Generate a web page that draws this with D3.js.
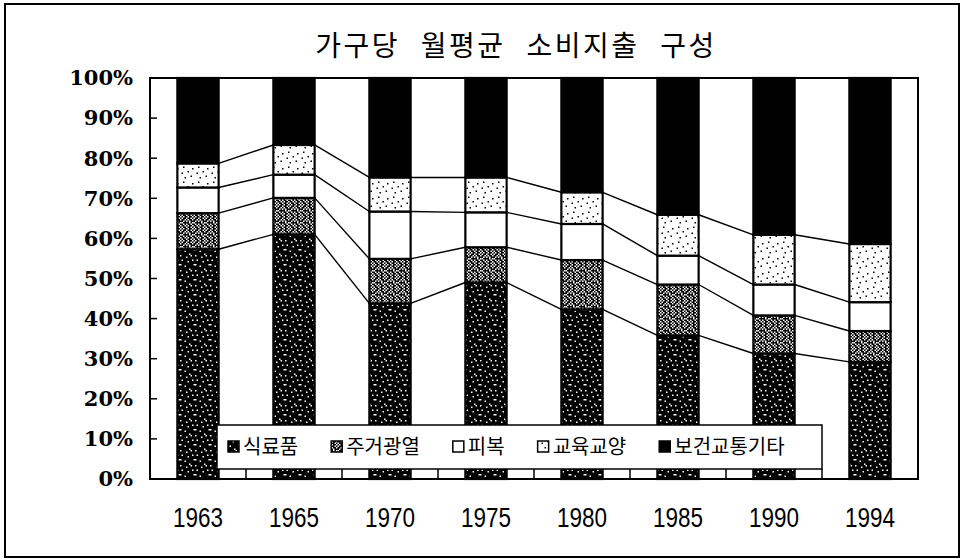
<!DOCTYPE html>
<html>
<head>
<meta charset="utf-8">
<script src="https://cdn.jsdelivr.net/npm/d3@7"></script>
<style>
  html, body { margin: 0; padding: 0; background: #fff; }
  svg { display: block; }
</style>
</head>
<body>
<div id="chart"></div>
<script>
// values (percent of monthly spending)
var years = ["1963", "1965", "1970", "1975", "1980", "1985", "1990", "1994"];
var seriesNames = ["식료품", "주거광열", "피복", "교육교양", "보건교통기타"];
var food      = [57.3, 61.0, 43.8, 49.0, 42.3, 35.8, 31.3, 29.2];
var housing   = [ 9.0,  9.1, 11.1,  8.8, 12.3, 12.7,  9.5,  7.7];
var clothing  = [ 6.4,  5.8, 11.8,  8.7,  9.0,  7.2,  7.7,  7.2];
var education = [ 6.0,  7.4,  8.5,  8.7,  7.9, 10.2, 12.4, 14.5];
var other     = [21.3, 16.7, 24.8, 24.8, 28.5, 34.1, 39.1, 41.4];
var yTicks = [0, 10, 20, 30, 40, 50, 60, 70, 80, 90, 100];

var width = 966, height = 559;
var margin = {left: 150, right: 48, top: 78, bottom: 80};

var svg = d3.select("#chart").append("svg")
    .attr("width", width)
    .attr("height", height);

// speckle textures like the printed chart (1 = dot)
var tiles = {
  food: {bg: "#000", dot: "#fff", rows: [
    "1000000100",
    "0000100000",
    "0000000000",
    "0100000010",
    "0000010000",
    "0000000000",
    "1000000001",
    "0001000000",
    "0000000000",
    "0000001000"]},
  housing: {bg: "#000", dot: "#fff", rows: [
    "10100100",
    "01001001",
    "10010100",
    "00101010",
    "11000010",
    "00101001",
    "10010100",
    "01001001"]},
  education: {bg: "#fff", dot: "#000", rows: [
    "0000000000",
    "0010000000",
    "0000000010",
    "0000000000",
    "0000010000",
    "0100000000",
    "0000000000",
    "0000000100",
    "0001000000",
    "0000000000"]}
};

var defs = svg.append("defs");
Object.keys(tiles).forEach(function (key) {
    var t = tiles[key];
    var n = t.rows[0].length;
    var p = defs.append("pattern")
        .attr("id", "pat-" + key)
        .attr("patternUnits", "userSpaceOnUse")
        .attr("width", n * 1.5)
        .attr("height", t.rows.length * 1.5);
    p.append("rect").attr("width", n * 1.5).attr("height", t.rows.length * 1.5).attr("fill", t.bg);
    t.rows.forEach(function (row, r) {
        row.split("").forEach(function (c, i) {
            if (c === "1") {
                p.append("rect")
                    .attr("x", i * 1.5).attr("y", r * 1.5)
                    .attr("width", 1.5).attr("height", 1.5)
                    .attr("fill", t.dot);
            }
        });
    });
});

var fills = ["url(#pat-food)", "url(#pat-housing)", "#fff", "url(#pat-education)", "#000"];

// outer frame
svg.append("rect")
    .attr("x", 5).attr("y", 4)
    .attr("width", 954).attr("height", 553)
    .attr("fill", "none")
    .attr("stroke", "#000")
    .attr("stroke-width", 2);

// title
svg.append("text")
    .attr("x", 516)
    .attr("y", 56)
    .attr("text-anchor", "middle")
    .style("font-family", "'Noto Sans CJK KR', sans-serif")
    .style("font-size", "28px")
    .style("font-weight", "400")
    .style("letter-spacing", "2.5px")
    .style("word-spacing", "12px")
    .text("가구당 월평균 소비지출 구성");

var x = d3.scaleBand()
    .domain(years)
    .range([margin.left, width - margin.right])
    .paddingInner(0.57)
    .paddingOuter(0.285);

var y = d3.scaleLinear()
    .domain([0, 100])
    .range([height - margin.bottom, margin.top]);

var table = years.map(function (yr, i) {
    return {year: yr, s0: food[i], s1: housing[i], s2: clothing[i], s3: education[i], s4: other[i]};
});
var keys = ["s0", "s1", "s2", "s3", "s4"];
var stacked = d3.stack().keys(keys)(table);

// plot frame
svg.append("rect")
    .attr("x", margin.left)
    .attr("y", y(100))
    .attr("width", x.range()[1] - margin.left)
    .attr("height", y(0) - y(100))
    .attr("fill", "#fff")
    .attr("stroke", "#000")
    .attr("stroke-width", 2);

// series lines between bars
var step = x.step();
for (var k = 0; k < 4; k++) {
    var layer = stacked[k];
    for (var i = 0; i < years.length - 1; i++) {
        svg.append("line")
            .attr("x1", x(years[i]) + x.bandwidth())
            .attr("y1", y(layer[i][1]))
            .attr("x2", x(years[i + 1]))
            .attr("y2", y(layer[i + 1][1]))
            .attr("stroke", "#000")
            .attr("stroke-width", 1.4);
    }
}

// stacked bars
stacked.forEach(function (layer, k) {
    svg.append("g").selectAll("rect")
        .data(layer)
        .enter()
        .append("rect")
        .attr("x", d => x(d.data.year))
        .attr("y", d => y(d[1]))
        .attr("width", x.bandwidth())
        .attr("height", d => y(d[0]) - y(d[1]))
        .attr("fill", fills[k])
        .attr("stroke", "#000")
        .attr("stroke-width", 2.2);
});

// y axis ticks (inward) and labels
var yAxis = svg.append("g");
yTicks.forEach(function (t) {
    yAxis.append("line")
        .attr("x1", margin.left).attr("x2", margin.left + 7)
        .attr("y1", y(t)).attr("y2", y(t))
        .attr("stroke", "#000").attr("stroke-width", 1.5);
    yAxis.append("text")
        .attr("x", 133)
        .attr("y", y(t))
        .attr("dy", "0.35em")
        .attr("text-anchor", "end")
        .style("font-family", "'DejaVu Serif', 'Liberation Serif', serif")
        .style("font-weight", "bold")
        .style("font-size", "21px")
        .text(t + "%");
});

// category boundary ticks on the x axis
years.slice(1).forEach(function (yr) {
    var bx = x(yr) - step * x.paddingInner() / 2;
    svg.append("line")
        .attr("x1", bx).attr("x2", bx)
        .attr("y1", y(0)).attr("y2", y(0) - 10)
        .attr("stroke", "#000").attr("stroke-width", 1.5);
});

// x labels (narrow face squeezed to the printed width)
svg.append("g").selectAll("text")
    .data(years)
    .enter()
    .append("text")
    .attr("x", d => x(d) + x.bandwidth() / 2 - 25)
    .attr("y", 527)
    .attr("textLength", 50)
    .attr("lengthAdjust", "spacingAndGlyphs")
    .style("font-family", "'Liberation Sans', sans-serif")
    .style("font-size", "27px")
    .text(d => d);

// legend
var legend = svg.append("g");
legend.append("rect")
    .attr("x", 217).attr("y", 425)
    .attr("width", 605).attr("height", 44)
    .attr("fill", "#fff")
    .attr("stroke", "#000")
    .attr("stroke-width", 1.5);

var lx = 228;
seriesNames.forEach(function (name, k) {
    legend.append("rect")
        .attr("x", lx).attr("y", 441)
        .attr("width", 11).attr("height", 11)
        .attr("fill", fills[k])
        .attr("stroke", "#000")
        .attr("stroke-width", 1.5);
    var t = legend.append("text")
        .attr("x", lx + 15)
        .attr("y", 447)
        .attr("dy", "0.36em")
        .style("font-family", "'Noto Sans CJK KR', sans-serif")
        .style("font-size", "20px")
        .text(name);
    lx += 15 + t.node().getComputedTextLength() + 33;
});
</script>
</body>
</html>
